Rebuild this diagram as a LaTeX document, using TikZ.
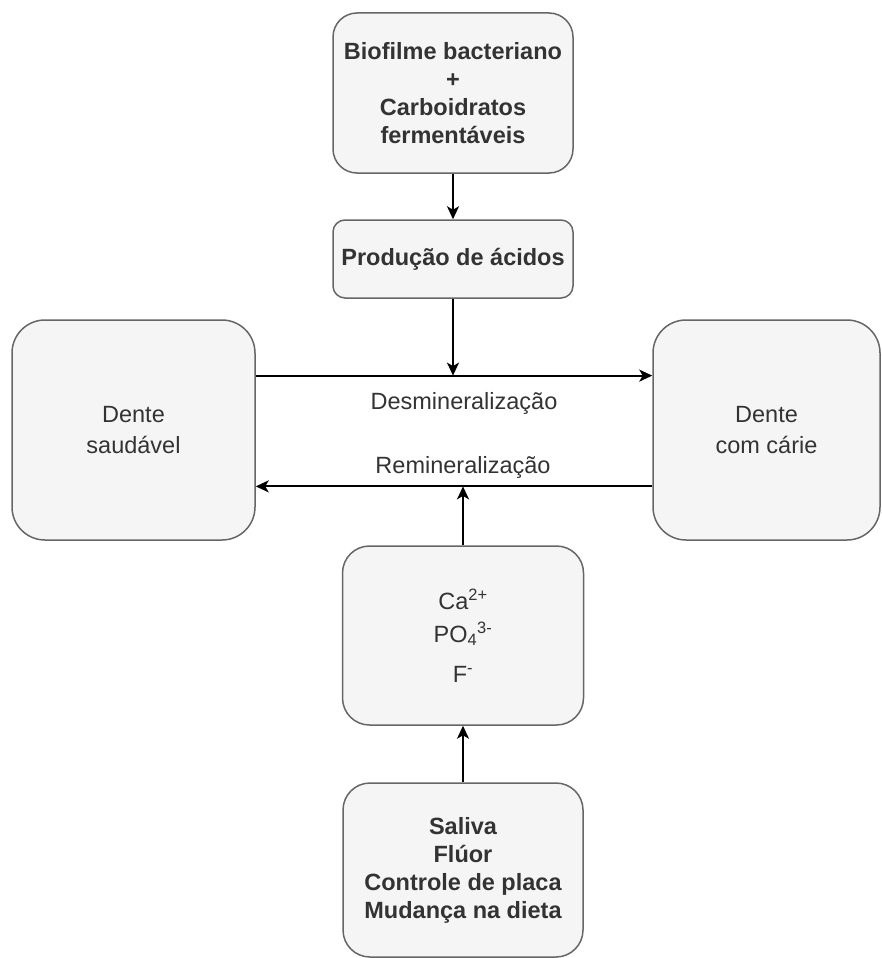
\documentclass[tikz,border=0pt]{standalone}
\usepackage{fontspec}
\setmainfont{Liberation Sans}
\usetikzlibrary{arrows.meta,calc}
\definecolor{boxfill}{HTML}{F5F5F5}
\definecolor{boxline}{HTML}{666666}
\definecolor{txt}{HTML}{333333}
\tikzset{
  card/.style={draw=boxline, fill=boxfill, line width=1.5pt, align=center,
    text=txt, inner sep=0pt, font=\fontsize{23.5}{28}\selectfont},
  boldcard/.style={card, font=\fontsize{23.5}{28}\selectfont\bfseries},
  conn/.style={line width=1.9pt, -{Stealth[length=13pt,width=12pt,inset=3.5pt]}},
  lbl/.style={text=txt, inner sep=0pt, font=\fontsize{23.5}{28}\selectfont}
}
\begin{document}
\begin{tikzpicture}[x=1pt,y=-1pt]
\useasboundingbox (0,0) rectangle (882,958);
\node[boldcard, minimum width=240pt, minimum height=160pt, rounded corners=24pt] (bio) at (453,93)
  {Biofilme bacteriano\\+\\Carboidratos\\fermentáveis};
\node[boldcard, minimum width=240pt, minimum height=78pt, rounded corners=12pt] (prod) at (453,259)
  {Produção de ácidos};
\node[card, minimum width=243pt, minimum height=220pt, rounded corners=33pt, font=\fontsize{23.5}{31}\selectfont] (saud) at (133.5,430)
  {Dente\\saudável};
\node[card, minimum width=227pt, minimum height=220pt, rounded corners=33pt, font=\fontsize{23.5}{31}\selectfont] (carie) at (766.5,430)
  {Dente\\com cárie};
\node[card, minimum width=241pt, minimum height=179pt, rounded corners=27pt] (ca) at (463,635.5)
  {Ca\textsuperscript{2+}\\[5pt]PO\textsubscript{4}\textsuperscript{3-}\\[12pt]F\textsuperscript{-}};
\node[boldcard, minimum width=240pt, minimum height=174pt, rounded corners=27pt] (sal) at (463,870)
  {Saliva\\Flúor\\Controle de placa\\Mudança na dieta};

\coordinate (d1) at ($(saud.north east)!0.2545!(saud.south east)$);
\coordinate (d2) at ($(carie.north west)!0.2545!(carie.south west)$);
\coordinate (r1) at ($(carie.north west)!0.7545!(carie.south west)$);
\coordinate (r2) at ($(saud.north east)!0.7545!(saud.south east)$);
\coordinate (dm) at (prod.south |- d1);
\coordinate (rm) at (ca.north |- r1);

\draw[conn] (bio) -- (prod);
\draw[conn] (d1) -- (d2);
\draw[conn] (prod.south) -- (dm);
\draw[conn] (r1) -- (r2);
\draw[conn] (ca.north) -- (rm);
\draw[conn] (sal.north) -- (ca.south);

\node[lbl] (desl) at (464,403) {Desmineralização};
\node[lbl] (reml) at (463,467) {Remineralização};
\end{tikzpicture}
\end{document}
